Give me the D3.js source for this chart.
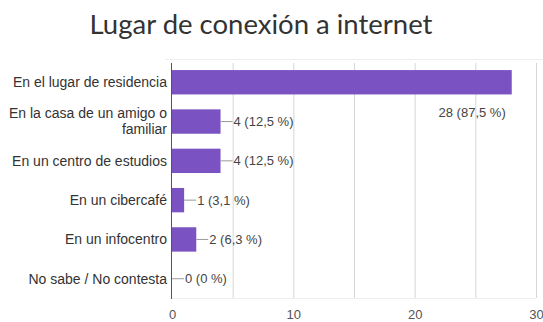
<!DOCTYPE html>
<html>
<head>
<meta charset="utf-8">
<script src="https://cdn.jsdelivr.net/npm/d3@7"></script>
<style>
  html, body { margin: 0; padding: 0; background: #fff; }
  svg { display: block; }
</style>
</head>
<body>
<script>
const title = "Lugar de conexión a internet"
const categories = [
    ["En el lugar de residencia"],
    ["En la casa de un amigo o", "familiar"],
    ["En un centro de estudios"],
    ["En un cibercafé"],
    ["En un infocentro"],
    ["No sabe / No contesta"],
]
const values = [28, 4, 4, 1, 2, 0]
const percents = ["87,5", "12,5", "12,5", "3,1", "6,3", "0"]
const grid_ticks = [5, 10, 15, 20, 25, 30]
const label_ticks = [0, 10, 20, 30]

const W = 543, H = 322
const plot_left = 172, plot_right = 536, plot_top = 63, plot_bottom = 298
const font = "Liberation Sans, Arial, sans-serif"

const svg = d3.select("body").append("svg")
    .attr("width", W)
    .attr("height", H)

svg.append("text")
    .attr("x", 261)
    .attr("y", 34)
    .attr("text-anchor", "middle")
    .attr("font-family", "Lato")
    .attr("font-size", 27.5)
    .attr("fill", "#333")
    .text(title)

const x = d3.scaleLinear().domain([0, 30]).range([plot_left, plot_right])
const y = d3.scaleBand()
    .domain(d3.range(values.length))
    .range([plot_top, plot_bottom])
    .paddingInner(0.38)
    .paddingOuter(0.18)

// faint frame lines
svg.append("line")
    .attr("x1", 165).attr("x2", W)
    .attr("y1", 59.5).attr("y2", 59.5)
    .attr("stroke", "#eeeeee")
svg.append("line")
    .attr("x1", plot_left).attr("x2", plot_right)
    .attr("y1", plot_bottom + 0.5).attr("y2", plot_bottom + 0.5)
    .attr("stroke", "#eeeeee")

// grid
const grid = svg.append("g")
    .attr("transform", `translate(0, ${plot_bottom})`)
    .call(d3.axisBottom(x).tickValues(grid_ticks).tickSize(-(plot_bottom - plot_top)).tickFormat(""))
grid.select(".domain").remove()
grid.selectAll(".tick line").attr("stroke", "#d6d6d6")

// tick labels
const ax = svg.append("g")
    .attr("transform", `translate(0, ${plot_bottom})`)
    .call(d3.axisBottom(x).tickValues(label_ticks).tickSize(0).tickPadding(12))
ax.select(".domain").remove()
ax.selectAll("text")
    .attr("font-family", font)
    .attr("font-size", 13)
    .attr("fill", "#555")

// bars
svg.append("g").selectAll("rect")
    .data(values)
    .join("rect")
    .attr("x", x(0))
    .attr("y", (d, i) => y(i))
    .attr("width", (d) => x(d) - x(0))
    .attr("height", y.bandwidth())
    .attr("fill", "#7b52c2")

// zero axis line
svg.append("line")
    .attr("x1", x(0) - 0.5).attr("x2", x(0) - 0.5)
    .attr("y1", plot_top).attr("y2", plot_bottom + 1)
    .attr("stroke", "#555")

// category labels
const cat = svg.append("g").selectAll("text")
    .data(categories)
    .join("text")
    .attr("text-anchor", "end")
    .attr("font-family", font)
    .attr("font-size", 14)
    .attr("fill", "#333")
    .attr("transform", (d, i) => `translate(${x(0) - 5}, ${y(i) + y.bandwidth() / 2})`)
cat.selectAll("tspan")
    .data((d) => d.map((t, k) => ({ t, k, n: d.length })))
    .join("tspan")
    .attr("x", 0)
    .attr("y", (d) => (d.k - (d.n - 1) / 2) * 16)
    .attr("dy", "0.35em")
    .text((d) => d.t)

// value labels
const fits = (d) => x(d) < plot_right - 90
const lab = svg.append("g")
values.forEach((v, i) => {
    const cy = y(i) + y.bandwidth() / 2
    const txt = `${v} (${percents[i]} %)`
    if (fits(v)) {
        lab.append("line")
            .attr("x1", x(v)).attr("x2", x(v) + 12)
            .attr("y1", cy).attr("y2", cy)
            .attr("stroke", "#999")
        lab.append("text")
            .attr("x", x(v) + 13)
            .attr("y", cy)
            .attr("dy", "0.35em")
            .attr("font-family", font)
            .attr("font-size", 13)
            .attr("fill", "#444")
            .text(txt)
    } else {
        lab.append("text")
            .attr("x", x(v) - 6)
            .attr("y", y(i) + y.bandwidth() + 18)
            .attr("dy", "0.35em")
            .attr("text-anchor", "end")
            .attr("font-family", font)
            .attr("font-size", 13)
            .attr("fill", "#444")
            .text(txt)
    }
})
</script>
</body>
</html>
